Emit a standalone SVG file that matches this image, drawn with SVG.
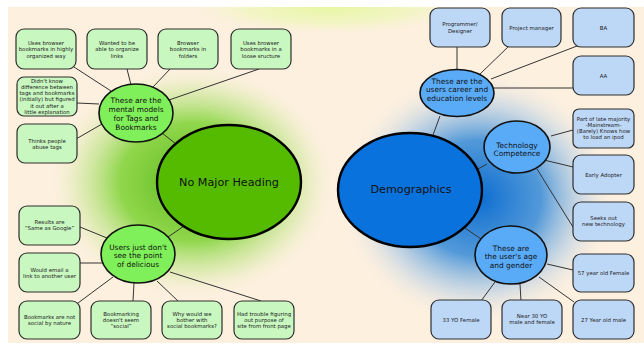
<svg xmlns="http://www.w3.org/2000/svg" width="644" height="347" viewBox="0 0 644 347">
<defs>
<radialGradient id="gGlow" cx="0.5" cy="0.5" r="0.5">
<stop offset="0" stop-color="#5cb81a" stop-opacity="1"/>
<stop offset="0.5" stop-color="#84d43c" stop-opacity="0.9"/>
<stop offset="0.78" stop-color="#cde89a" stop-opacity="0.55"/>
<stop offset="1" stop-color="#fdf0df" stop-opacity="0"/>
</radialGradient>
<radialGradient id="bGlow" cx="0.5" cy="0.5" r="0.5">
<stop offset="0" stop-color="#0b6cd0" stop-opacity="1"/>
<stop offset="0.45" stop-color="#3f8fd8" stop-opacity="0.9"/>
<stop offset="0.75" stop-color="#b3cde6" stop-opacity="0.55"/>
<stop offset="1" stop-color="#fdf0df" stop-opacity="0"/>
</radialGradient>
<radialGradient id="yGlow" cx="0.5" cy="0.5" r="0.5">
<stop offset="0" stop-color="#e6f7a0" stop-opacity="1"/>
<stop offset="0.6" stop-color="#eef6bb" stop-opacity="0.7"/>
<stop offset="1" stop-color="#fdf0df" stop-opacity="0"/>
</radialGradient>
</defs>
<style>
.gbox{fill:#c8f7c0;stroke:#2e2e2e;stroke-width:1.2}
.bbox{fill:#bdd7f7;stroke:#2e2e2e;stroke-width:1.2}
.gsm{fill:#80f05a;stroke:#111;stroke-width:1.6}
.bsm{fill:#5aabf7;stroke:#111;stroke-width:1.6}
.gbig{fill:#55bb00;stroke:#000;stroke-width:2.4}
.bbig{fill:#0a72dc;stroke:#000;stroke-width:2.4}
.bt{font-family:"DejaVu Sans",Verdana,sans-serif;font-size:5.4px;fill:#222;text-anchor:middle}
.et{font-family:"DejaVu Sans",Verdana,sans-serif;font-size:7.4px;fill:#111;text-anchor:middle}
.ht{font-family:"DejaVu Sans",Verdana,sans-serif;font-size:11.2px;fill:#111;text-anchor:middle}
#connectors line{stroke:#333;stroke-width:1}
</style>
<rect x="0" y="0" width="644" height="347" fill="#ffffff"/>
<rect x="8" y="7" width="636" height="336" fill="#fdf0df"/>
<ellipse cx="330" cy="6" rx="150" ry="30" fill="url(#yGlow)"/>
<ellipse cx="192" cy="182" rx="145" ry="118" fill="url(#gGlow)"/>
<ellipse cx="478" cy="198" rx="140" ry="128" fill="url(#bGlow)"/>
<rect x="0" y="0" width="644" height="7" fill="#ffffff"/>
<rect x="0" y="0" width="8" height="347" fill="#ffffff"/>
<rect x="0" y="343" width="644" height="4" fill="#ffffff"/>

<g id="connectors">
<line x1="74" y1="67" x2="111" y2="91"/>
<line x1="127" y1="69" x2="131" y2="85"/>
<line x1="171" y1="68" x2="153" y2="87"/>
<line x1="259" y1="69" x2="169" y2="100"/>
<line x1="77" y1="103" x2="99" y2="104"/>
<line x1="76" y1="139" x2="102" y2="124"/>
<line x1="162" y1="133" x2="176" y2="144"/>
<line x1="80" y1="227" x2="107" y2="238"/>
<line x1="80" y1="263" x2="103" y2="263"/>
<line x1="78" y1="303" x2="113" y2="277"/>
<line x1="133" y1="301" x2="134" y2="283"/>
<line x1="178" y1="301" x2="157" y2="281"/>
<line x1="261" y1="301" x2="170" y2="272"/>
<line x1="168" y1="237" x2="184" y2="226"/>
<line x1="457" y1="47" x2="457" y2="71"/>
<line x1="509" y1="46" x2="479" y2="75"/>
<line x1="577" y1="46" x2="491" y2="79"/>
<line x1="573" y1="88" x2="494" y2="88"/>
<line x1="440" y1="116" x2="433" y2="135"/>
<line x1="573" y1="130" x2="551" y2="136"/>
<line x1="573" y1="167" x2="544" y2="160"/>
<line x1="573" y1="227" x2="537" y2="169"/>
<line x1="478" y1="169" x2="487" y2="164"/>
<line x1="573" y1="270" x2="547" y2="264"/>
<line x1="481" y1="301" x2="495" y2="282"/>
<line x1="521" y1="301" x2="520" y2="284"/>
<line x1="574" y1="302" x2="539" y2="277"/>
<line x1="465" y1="228" x2="481" y2="239"/>
</g>

<g id="n-nomajor"><ellipse class="gbig" cx="229" cy="182" rx="72" ry="57"/><text class="ht" x="229" y="186">No Major Heading</text></g>
<g id="n-demographics"><ellipse class="bbig" cx="410" cy="190" rx="72" ry="57"/><text class="ht" x="411" y="193">Demographics</text></g>

<g id="n-mental"><ellipse class="gsm" cx="136" cy="113" rx="37" ry="29"/>
<text class="et" x="136" y="102.5">These are the</text><text class="et" x="136" y="111.5">mental models</text><text class="et" x="136" y="120.5">for Tags and</text><text class="et" x="136" y="129.5">Bookmarks</text></g>
<g id="n-users"><ellipse class="gsm" cx="138" cy="254" rx="37" ry="29"/>
<text class="et" x="138" y="249.5">Users just don't</text><text class="et" x="138" y="258">see the point</text><text class="et" x="138" y="266.5">of delicious</text></g>
<g id="n-career"><ellipse class="bsm" cx="457" cy="93" rx="37" ry="23.5"/>
<text class="et" x="457" y="83.5">These are the</text><text class="et" x="457" y="92">users career and</text><text class="et" x="457" y="100.5">education levels</text></g>
<g id="n-tech"><ellipse class="bsm" cx="517" cy="147" rx="33" ry="26"/>
<text class="et" x="517" y="147.5">Technology</text><text class="et" x="517" y="156">Competence</text></g>
<g id="n-age"><ellipse class="bsm" cx="511" cy="255" rx="36" ry="29"/>
<text class="et" x="511" y="250.5">These are</text><text class="et" x="511" y="259">the user's age</text><text class="et" x="511" y="267.5">and gender</text></g>

<g id="b1"><rect class="gbox" x="16" y="29" width="60" height="40" rx="8"/><text class="bt" x="46" y="44.5">Uses browser</text><text class="bt" x="46" y="51">bookmarks in highly</text><text class="bt" x="46" y="57.5">organized way</text></g>
<g id="b2"><rect class="gbox" x="87" y="29" width="60" height="40" rx="8"/><text class="bt" x="117" y="44.5">Wanted to be</text><text class="bt" x="117" y="51">able to organize</text><text class="bt" x="117" y="57.5">links</text></g>
<g id="b3"><rect class="gbox" x="158" y="29" width="60" height="40" rx="8"/><text class="bt" x="188" y="44.5">Browser</text><text class="bt" x="188" y="51">bookmarks in</text><text class="bt" x="188" y="57.5">folders</text></g>
<g id="b4"><rect class="gbox" x="231" y="29" width="60" height="40" rx="8"/><text class="bt" x="261" y="44.5">Uses browser</text><text class="bt" x="261" y="51">bookmarks in a</text><text class="bt" x="261" y="57.5">loose sructure</text></g>
<g id="b5"><rect class="gbox" x="17" y="77" width="60" height="39" rx="7"/><text class="bt" x="47" y="82.5">Didn't know</text><text class="bt" x="47" y="88.8">difference between</text><text class="bt" x="47" y="95.1">tags and bookmarks</text><text class="bt" x="47" y="101.4">(initially) but figured</text><text class="bt" x="47" y="107.7">it out after a</text><text class="bt" x="47" y="114">little explanation</text></g>
<g id="b6"><rect class="gbox" x="17" y="124" width="60" height="39" rx="8"/><text class="bt" x="47" y="142.5">Thinks people</text><text class="bt" x="47" y="149">abuse tags</text></g>

<g id="b7"><rect class="gbox" x="19" y="206" width="61" height="39" rx="8"/><text class="bt" x="49.5" y="224">Results are</text><text class="bt" x="49.5" y="230">“Same as Google”</text></g>
<g id="b8"><rect class="gbox" x="19" y="253" width="61" height="39" rx="8"/><text class="bt" x="49.5" y="271.5">Would email a</text><text class="bt" x="49.5" y="277.5">link to another user</text></g>
<g id="b9"><rect class="gbox" x="19" y="301" width="61" height="38" rx="8"/><text class="bt" x="49.5" y="318.5">Bookmarks are not</text><text class="bt" x="49.5" y="324.8">social by  nature</text></g>
<g id="b10"><rect class="gbox" x="91" y="301" width="60" height="38" rx="8"/><text class="bt" x="121" y="315.5">Bookmarking</text><text class="bt" x="121" y="321.8">doesn't seem</text><text class="bt" x="121" y="328.1">“social”</text></g>
<g id="b11"><rect class="gbox" x="162" y="301" width="60" height="38" rx="8"/><text class="bt" x="192" y="315.5">Why would we</text><text class="bt" x="192" y="321.8">bother with</text><text class="bt" x="192" y="328.1">social bookmarks?</text></g>
<g id="b12"><rect class="gbox" x="234" y="301" width="60" height="38" rx="8"/><text class="bt" x="264" y="315.5">Had trouble figuring</text><text class="bt" x="264" y="321.8">out purpose of</text><text class="bt" x="264" y="328.1">site from front page</text></g>

<g id="c1"><rect class="bbox" x="430" y="8" width="60" height="39" rx="8"/><text class="bt" x="460" y="26">Programmer/</text><text class="bt" x="460" y="32.5">Designer</text></g>
<g id="c2"><rect class="bbox" x="502" y="8" width="59" height="39" rx="8"/><text class="bt" x="531.5" y="29.5">Project manager</text></g>
<g id="c3"><rect class="bbox" x="573" y="8" width="61" height="39" rx="8"/><text class="bt" x="603.5" y="29.5">BA</text></g>
<g id="c4"><rect class="bbox" x="573" y="56" width="61" height="39" rx="8"/><text class="bt" x="603.5" y="77.5">AA</text></g>
<g id="c5"><rect class="bbox" x="573" y="109" width="61" height="39" rx="6"/><text class="bt" x="603.5" y="120.5">Part of late majority</text><text class="bt" x="603.5" y="126.8">-Mainstream-</text><text class="bt" x="603.5" y="133.1">(Barely) Knows how</text><text class="bt" x="603.5" y="139.4">to load an ipod</text></g>
<g id="c6"><rect class="bbox" x="573" y="155" width="61" height="39" rx="8"/><text class="bt" x="603.5" y="176.5">Early Adopter</text></g>
<g id="c7"><rect class="bbox" x="573" y="202" width="61" height="39" rx="8"/><text class="bt" x="603.5" y="220">Seeks out</text><text class="bt" x="603.5" y="226">new technology</text></g>
<g id="c8"><rect class="bbox" x="573" y="254" width="61" height="38" rx="8"/><text class="bt" x="603.5" y="275">57 year old Female</text></g>
<g id="c9"><rect class="bbox" x="431" y="300" width="60" height="39" rx="8"/><text class="bt" x="461" y="321.5">33 YO Female</text></g>
<g id="c10"><rect class="bbox" x="502" y="300" width="60" height="39" rx="8"/><text class="bt" x="532" y="318">Near 30 YO</text><text class="bt" x="532" y="324">male and female</text></g>
<g id="c11"><rect class="bbox" x="573" y="300" width="61" height="39" rx="8"/><text class="bt" x="603.5" y="321.5">27 Year old male</text></g>
</svg>
